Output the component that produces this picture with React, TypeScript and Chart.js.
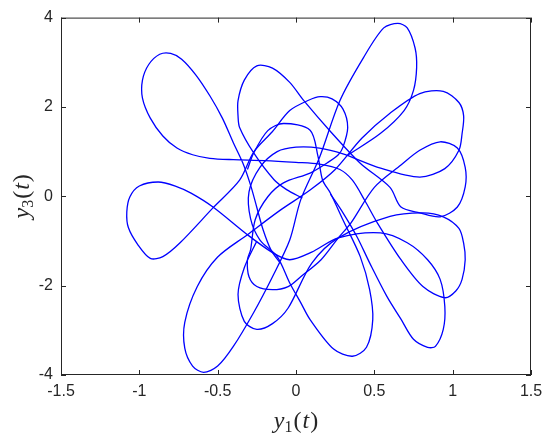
import React, { useEffect, useRef } from "react";
import { Chart, registerables } from "chart.js";

Chart.register(...registerables);

type P = [number, number];

const xTicks = [-1.5, -1, -0.5, 0, 0.5, 1, 1.5];
const yTicks = [-4, -2, 0, 2, 4];

// inner lower loop, lower-right lobe, then top-left lobe
const strokeA: P[] = [
  [-0.25, -1.0], [-0.33, -1.6], [-0.37, -2.2], [-0.33, -2.8], [-0.25, -2.98], [-0.15, -2.85],
  [-0.05, -2.5], [0.1, -1.5], [0.27, -0.93], [0.6, -0.45], [0.81, -0.37], [0.94, -0.46],
  [1.04, -0.72], [1.07, -1.05], [1.08, -1.42], [1.06, -1.86], [1.02, -2.12], [0.95, -2.27],
  [0.81, -2.02], [0.67, -1.42], [0.52, -0.6], [0.44, -0.1], [0.36, 0.36],
  [0.28, 0.6], [0.15, 0.72], [0.0, 0.76], [-0.2, 0.8], [-0.4, 0.82], [-0.55, 0.85],
  [-0.66, 0.93], [-0.76, 1.08], [-0.85, 1.35], [-0.93, 1.75], [-0.98, 2.2], [-0.98, 2.6],
  [-0.94, 2.95], [-0.87, 3.18], [-0.8, 3.2], [-0.73, 3.07], [-0.64, 2.72], [-0.55, 2.25],
  [-0.47, 1.75], [-0.4, 1.2], [-0.34, 0.75], [-0.29, 0.25], [-0.25, -0.25], [-0.21, -0.75],
  [-0.16, -1.2], [-0.1, -1.5],
];

// top-centre lobe, right lobe, inner loops, small top loop, left lobe, bottom-right lobe
const strokeB: P[] = [
  [0.04, -0.04], [-0.06, 0.15], [-0.14, 0.37], [-0.27, 0.97], [-0.36, 1.54],
  [-0.37, 1.8], [-0.37, 2.14], [-0.33, 2.6], [-0.25, 2.92], [-0.15, 2.87], [-0.04, 2.55],
  [0.05, 2.14], [0.22, 1.45], [0.41, 0.74], [0.6, 0.2], [0.67, -0.24], [0.79, -0.37], [0.92, -0.46],
  [1.03, -0.24], [1.08, 0.21], [1.08, 0.65], [1.03, 1.08], [0.92, 1.22], [0.79, 1.03], [0.67, 0.7],
  [0.5, 0.2], [0.35, -0.6], [0.27, -0.93], [0.16, -1.42], [0.03, -1.8], [-0.05, -2.02],
  [-0.15, -2.09], [-0.25, -2.02], [-0.3, -1.8], [-0.31, -1.42], [-0.29, -1.2], [-0.26, -0.52],
  [-0.18, -0.01], [-0.08, 0.3], [0.09, 0.52], [0.2, 0.75], [0.27, 0.93],
  [0.3, 1.1], [0.33, 1.54], [0.3, 1.95], [0.23, 2.18], [0.155, 2.23], [0.08, 2.15], [-0.04, 1.92],
  [-0.15, 1.45], [-0.27, 0.99], [-0.36, 0.36], [-0.53, -0.26], [-0.74, -1.04], [-0.85, -1.35],
  [-0.93, -1.39], [-1.01, -1.08], [-1.07, -0.7], [-1.08, -0.35], [-1.06, -0.01], [-1.0, 0.23],
  [-0.88, 0.32], [-0.77, 0.23], [-0.67, 0.07], [-0.53, -0.24], [-0.31, -0.86], [-0.15, -1.26],
  [-0.04, -1.42], [0.1, -1.25], [0.27, -0.93], [0.54, -0.82], [0.71, -1.04], [0.84, -1.42],
  [0.92, -1.86], [0.95, -2.47], [0.94, -2.98], [0.89, -3.36], [0.84, -3.38], [0.75, -3.2],
  [0.67, -2.75], [0.58, -2.24], [0.47, -1.49], [0.39, -0.91], [0.3, -0.37], [0.22, 0.05],
];

// top-right lobe, long diagonal, bottom-left lobe, upper-right lobe, bottom-centre lobe
const strokeC: P[] = [
  [0.33, 0.92], [0.54, 1.41], [0.69, 1.92], [0.75, 2.37], [0.77, 2.88], [0.76, 3.32], [0.71, 3.77],
  [0.65, 3.87], [0.56, 3.77], [0.43, 3.1], [0.28, 2.14], [0.15, 0.87], [0.03, -0.08], [-0.04, -0.98],
  [-0.15, -1.8], [-0.27, -2.6], [-0.4, -3.36], [-0.5, -3.8], [-0.59, -3.94], [-0.66, -3.8],
  [-0.71, -3.4], [-0.71, -2.82], [-0.63, -2.02], [-0.5, -1.36], [-0.31, -0.86], [-0.1, -0.31],
  [0.09, 0.14], [0.25, 0.6], [0.42, 1.3], [0.6, 1.86], [0.79, 2.3], [0.94, 2.35], [1.04, 2.1],
  [1.07, 1.8], [1.06, 1.4], [1.04, 1.03], [0.95, 0.62], [0.79, 0.43], [0.54, 0.63], [0.3, 0.95],
  [0.15, 1.08], [0.0, 1.1], [-0.12, 1.0], [-0.23, 0.65], [-0.3, 0.1], [-0.29, -0.5],
  [-0.23, -0.98], [-0.12, -1.35], [-0.04, -1.94], [0.03, -2.38], [0.09, -2.76], [0.24, -3.42],
  [0.36, -3.58], [0.45, -3.38], [0.49, -2.76], [0.47, -2.09], [0.41, -1.35], [0.3, -0.53],
  [0.22, 0.07], [0.17, 0.36], [0.14, 0.9], [0.09, 1.48], [-0.08, 1.63], [-0.18, 1.47], [-0.27, 0.97],
  [-0.31, 0.6],
];

const strokes: P[][] = [strokeA, strokeB, strokeC];

const AXIS = "#262626";

const framePlugin = {
  id: "frameTicks",
  afterDraw(chart: any) {
    const { ctx, chartArea: a, scales } = chart;
    ctx.save();
    ctx.strokeStyle = AXIS;
    ctx.lineWidth = 1;
    ctx.strokeRect(a.left + 0.5, a.top + 0.5, a.right - a.left - 1, a.bottom - a.top - 1);
    const L = 5;
    ctx.beginPath();
    xTicks.forEach((v) => {
      const px = Math.round(scales.x.getPixelForValue(v)) + 0.5;
      ctx.moveTo(px, a.bottom);
      ctx.lineTo(px, a.bottom - L);
      ctx.moveTo(px, a.top);
      ctx.lineTo(px, a.top + L);
    });
    yTicks.forEach((v) => {
      const py = Math.round(scales.y.getPixelForValue(v)) + 0.5;
      ctx.moveTo(a.left, py);
      ctx.lineTo(a.left + L, py);
      ctx.moveTo(a.right, py);
      ctx.lineTo(a.right - L, py);
    });
    ctx.stroke();

    const drawTitle = (sub: string) => {
      const big = 24;
      const small = 16;
      const fam = '"Liberation Serif", "DejaVu Serif", serif';
      const parts = [
        { t: "y", f: `italic ${big}px ${fam}`, dy: 0, gap: 0 },
        { t: sub, f: `${small}px ${fam}`, dy: 4, gap: 1 },
        { t: "(", f: `${big}px ${fam}`, dy: 0, gap: 1 },
        { t: "t", f: `italic ${big}px ${fam}`, dy: 0, gap: 1 },
        { t: ")", f: `${big}px ${fam}`, dy: 0, gap: 0 },
      ];
      let w = 0;
      parts.forEach((p) => {
        ctx.font = p.f;
        w += ctx.measureText(p.t).width + p.gap;
      });
      let x = -w / 2;
      ctx.textBaseline = "alphabetic";
      ctx.textAlign = "left";
      ctx.fillStyle = "#262626";
      parts.forEach((p) => {
        ctx.font = p.f;
        ctx.fillText(p.t, x, p.dy);
        x += ctx.measureText(p.t).width + p.gap;
      });
    };
    ctx.save();
    ctx.translate((a.left + a.right) / 2, 428);
    drawTitle("1");
    ctx.restore();
    ctx.save();
    ctx.translate(29, (a.top + a.bottom) / 2);
    ctx.rotate(-Math.PI / 2);
    drawTitle("3");
    ctx.restore();
    ctx.restore();
  },
};

export default function App() {
  const ref = useRef<HTMLCanvasElement>(null);
  useEffect(() => {
    if (!ref.current) return;
    const chart = new Chart(ref.current, {
      type: "scatter",
      data: {
        datasets: strokes.map((s) => ({
          data: s.map(([x, y]) => ({ x, y })),
          showLine: true,
          borderColor: "#0000ff",
          borderWidth: 1.3,
          pointRadius: 0,
          tension: 0.3,
          fill: false,
        })),
      },
      options: {
        animation: false,
        responsive: false,
        devicePixelRatio: 1,
        layout: { padding: { left: 0, top: 16, right: 19, bottom: 0 } },
        plugins: { legend: { display: false }, tooltip: { enabled: false } },
        scales: {
          x: {
            type: "linear",
            min: -1.5,
            max: 1.5,
            afterBuildTicks: (s: any) => {
              s.ticks = xTicks.map((v) => ({ value: v }));
            },
            afterFit: (s: any) => {
              s.height = 66;
            },
            grid: { display: false, drawTicks: false },
            border: { display: false },
            ticks: {
              padding: 7,
              color: AXIS,
              font: { family: '"Liberation Sans", Arial, sans-serif', size: 16 },
              callback: (v: any) => String(v),
            },
          },
          y: {
            type: "linear",
            min: -4,
            max: 4,
            afterBuildTicks: (s: any) => {
              s.ticks = yTicks.map((v) => ({ value: v }));
            },
            afterFit: (s: any) => {
              s.width = 61;
            },
            grid: { display: false, drawTicks: false },
            border: { display: false },
            ticks: {
              padding: 8,
              color: AXIS,
              font: { family: '"Liberation Sans", Arial, sans-serif', size: 16 },
              callback: (v: any) => String(v),
            },
          },
        },
      },
      plugins: [framePlugin],
    });
    return () => chart.destroy();
  }, []);
  return (
    <div style={{ position: "absolute", left: 0, top: 0, width: 550, height: 441, background: "#fff" }}>
      <canvas ref={ref} width={550} height={441} />
    </div>
  );
}
